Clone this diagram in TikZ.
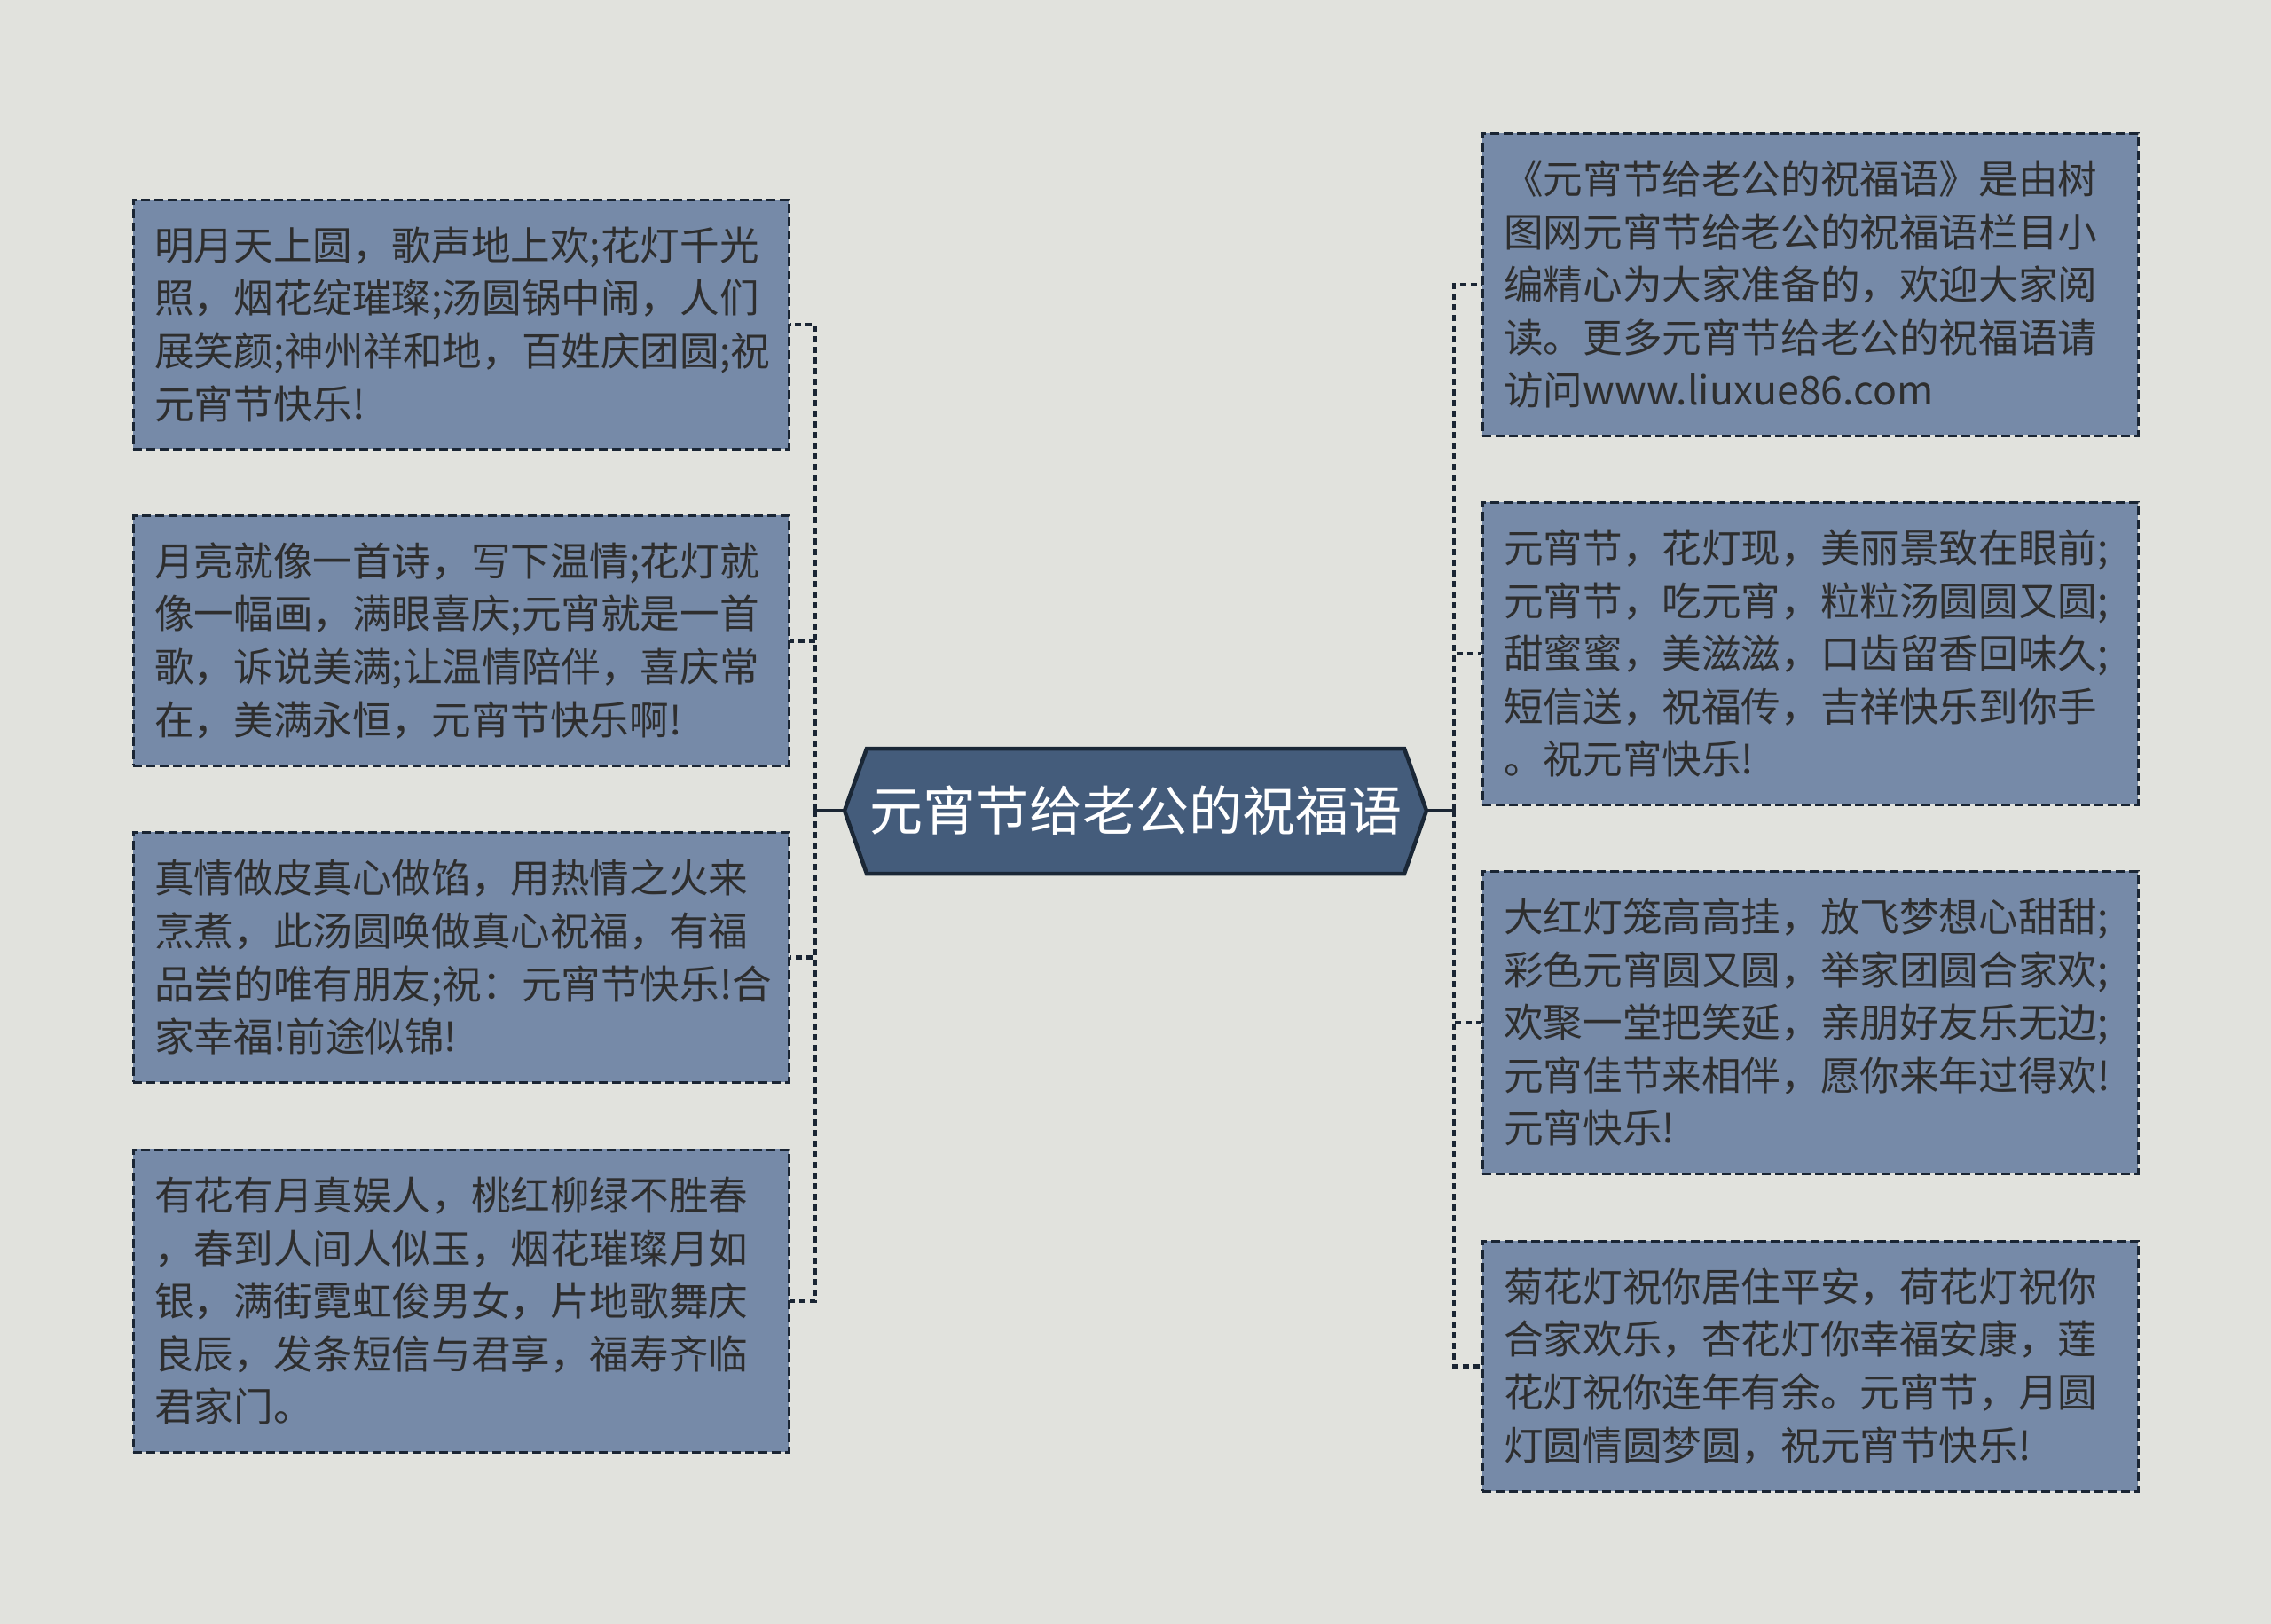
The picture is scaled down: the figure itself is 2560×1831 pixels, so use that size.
\documentclass[tikz,border=0pt]{standalone}
\usepackage{fontspec}
\newfontfamily\cjk{Noto Sans CJK SC}
\definecolor{bgc}{HTML}{E1E2DD}
\definecolor{boxc}{HTML}{768AA8}
\definecolor{bordc}{HTML}{1A2533}
\definecolor{centc}{HTML}{445C7B}
\definecolor{cbord}{HTML}{1A2736}
\definecolor{txtc}{HTML}{2E2E2E}
\tikzset{
  leaf/.style={draw=bordc, fill=boxc, line width=2.5pt, dash pattern=on 10pt off 5pt,
    text=txtc, font=\cjk\fontsize{44.6}{59.6}\selectfont, align=left,
    text width=691pt, inner xsep=24pt, inner ysep=0pt, minimum width=739pt,
    anchor=north west},
  conn/.style={draw=bordc, line width=4.5pt, dash pattern=on 7pt off 5pt},
  stub/.style={draw=bordc, line width=4.5pt},
  hexa/.style={fill=centc, draw=cbord, line width=4.5pt, line join=miter},
  centretext/.style={text=white, font=\cjk\fontsize{60}{70}\selectfont, inner sep=0pt}
}
\begin{document}
\begin{tikzpicture}[x=1pt,y=-1pt]
\fill[bgc] (0,0) rectangle (2560,1831);
\useasboundingbox (0,0) rectangle (2560,1831);

% centre
\draw[hexa] (952,914) -- (977,844) -- (1583,844) -- (1608,914) -- (1583,985) -- (977,985) -- cycle;
\node[centretext] (C) at (1280,914) {元宵节给老公的祝福语};
\coordinate (CW) at (952,914);
\coordinate (CE) at (1608,914);
\coordinate (JL) at (919,914);
\coordinate (JR) at (1639,914);

% left boxes
\node[leaf, minimum height=281pt] (L1) at (149,224) {明月天上圆，歌声地上欢;花灯千光\\照，烟花绽璀璨;汤圆锅中闹，人们\\展笑颜;神州祥和地，百姓庆团圆;祝\\元宵节快乐!};
\node[leaf, minimum height=282pt] (L2) at (149,580) {月亮就像一首诗，写下温情;花灯就\\像一幅画，满眼喜庆;元宵就是一首\\歌，诉说美满;让温情陪伴，喜庆常\\在，美满永恒，元宵节快乐啊!};
\node[leaf, minimum height=282pt] (L3) at (149,937) {真情做皮真心做馅，用热情之火来\\烹煮，此汤圆唤做真心祝福，有福\\品尝的唯有朋友;祝：元宵节快乐!合\\家幸福!前途似锦!};
\node[leaf, minimum height=341pt] (L4) at (149,1295) {有花有月真娱人，桃红柳绿不胜春\\，春到人间人似玉，烟花璀璨月如\\银，满街霓虹俊男女，片地歌舞庆\\良辰，发条短信与君享，福寿齐临\\君家门。};

% right boxes
\node[leaf, minimum height=341pt] (R1) at (1670,149) {《元宵节给老公的祝福语》是由树\\图网元宵节给老公的祝福语栏目小\\编精心为大家准备的，欢迎大家阅\\读。更多元宵节给老公的祝福语请\\访问www.liuxue86.com};
\node[leaf, minimum height=341pt] (R2) at (1670,565) {元宵节，花灯现，美丽景致在眼前;\\元宵节，吃元宵，粒粒汤圆圆又圆;\\甜蜜蜜，美滋滋，口齿留香回味久;\\短信送，祝福传，吉祥快乐到你手\\。祝元宵快乐!};
\node[leaf, minimum height=341pt] (R3) at (1670,981) {大红灯笼高高挂，放飞梦想心甜甜;\\彩色元宵圆又圆，举家团圆合家欢;\\欢聚一堂把笑延，亲朋好友乐无边;\\元宵佳节来相伴，愿你来年过得欢!\\元宵快乐!};
\node[leaf, minimum height=282pt] (R4) at (1670,1398) {菊花灯祝你居住平安，荷花灯祝你\\合家欢乐，杏花灯你幸福安康，莲\\花灯祝你连年有余。元宵节，月圆\\灯圆情圆梦圆，祝元宵节快乐!};

% connectors
\draw[stub] (CW) -- (JL);
\draw[stub] (CE) -- (JR);
\foreach \n in {L1,L2,L3,L4} { \draw[conn] (JL) |- (\n.east); }
\foreach \n in {R1,R2,R3,R4} { \draw[conn] (JR) |- (\n.west); }
\end{tikzpicture}
\end{document}
